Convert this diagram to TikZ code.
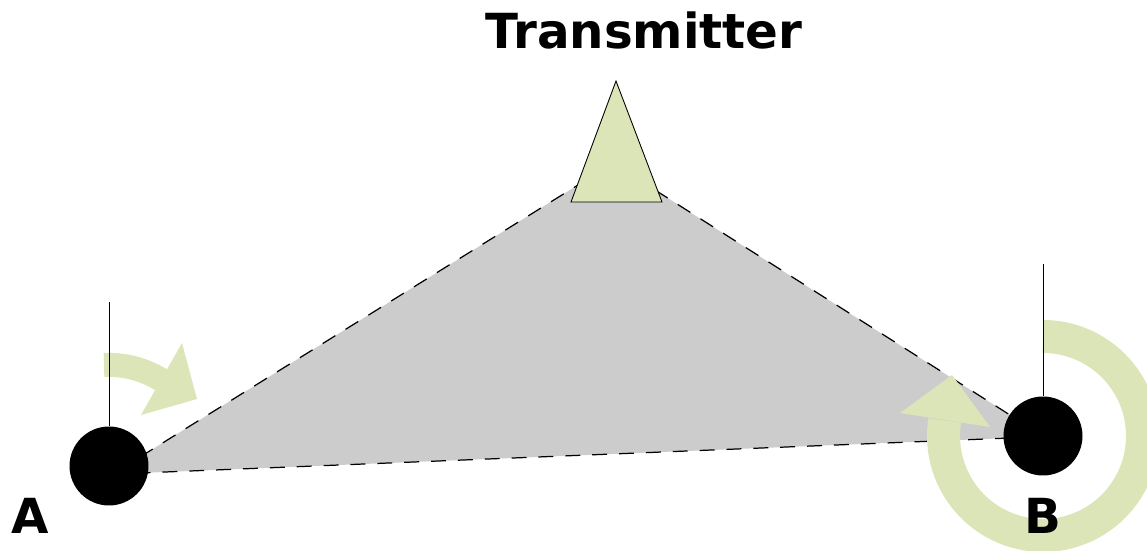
\documentclass[tikz,border=0pt]{standalone}
\usepackage{fontspec}
\setmainfont{DejaVu Sans}
\usepackage{xcolor}
\usetikzlibrary{arrows.meta,positioning,calc}
\definecolor{leafgreen}{RGB}{220,229,184}
\definecolor{shadegray}{RGB}{204,204,204}
\tikzset{
  station/.style={circle,fill=black,minimum size=1.58cm,inner sep=0pt},
  antenna/.style={black,line width=0.5pt},
  beam/.style={black,line width=0.7pt,dash pattern=on 8.5pt off 6.8pt},
  turn/.style={leafgreen,line cap=butt},
  label/.style={font=\fontsize{27.5}{30}\selectfont\bfseries,inner sep=0pt,anchor=base}
}

\begin{document}
\begin{tikzpicture}[x=0.02cm,y=-0.02cm]
  \useasboundingbox (0,0) rectangle (1147,551);
  % coverage between the two stations and the transmitter
  \fill[shadegray] (140,457) -- (578,185) -- (655,190) -- (1010,415)
     -- (1010,438) -- (140,473) -- cycle;
  \draw[beam] (140,457) -- (578,185);
  \draw[beam] (655,190) -- (1010,415);
  \draw[beam] (1010,438) -- (140,473);
  % small turn at A
  \draw[turn,line width=0.48cm] (104,365) .. controls (126,364) and (146,370) .. (163,381);
  \fill[leafgreen] (182,343) -- (197,399) -- (141,415) -- cycle;
  % full turn at B
  \draw[turn,line width=0.66cm] (1043,336.5) arc[start angle=90,end angle=-189,radius=1.99cm];
  \fill[leafgreen] (900,413) -- (952,375) -- (990,427) -- cycle;
  % stations
  \node[station] (nodeA) at (109,466) {};
  \node[station] (nodeB) at (1043,436) {};
  \coordinate (topA) at (109,302);
  \coordinate (topB) at (1043,264);
  \draw[antenna] (nodeA.north) -- (topA);
  \draw[antenna] (nodeB.north) -- (topB);
  % transmitter
  \filldraw[fill=leafgreen,draw=black,line width=0.5pt]
     (616,81) -- (662,202) -- (571,202) -- cycle;
  \node[label] (txt) at (644,49) {Transmitter};
  \node[label] (labA) at (30.5,533) {A};
  \node[label] (labB) at (1043,533) {B};
\end{tikzpicture}
\end{document}
